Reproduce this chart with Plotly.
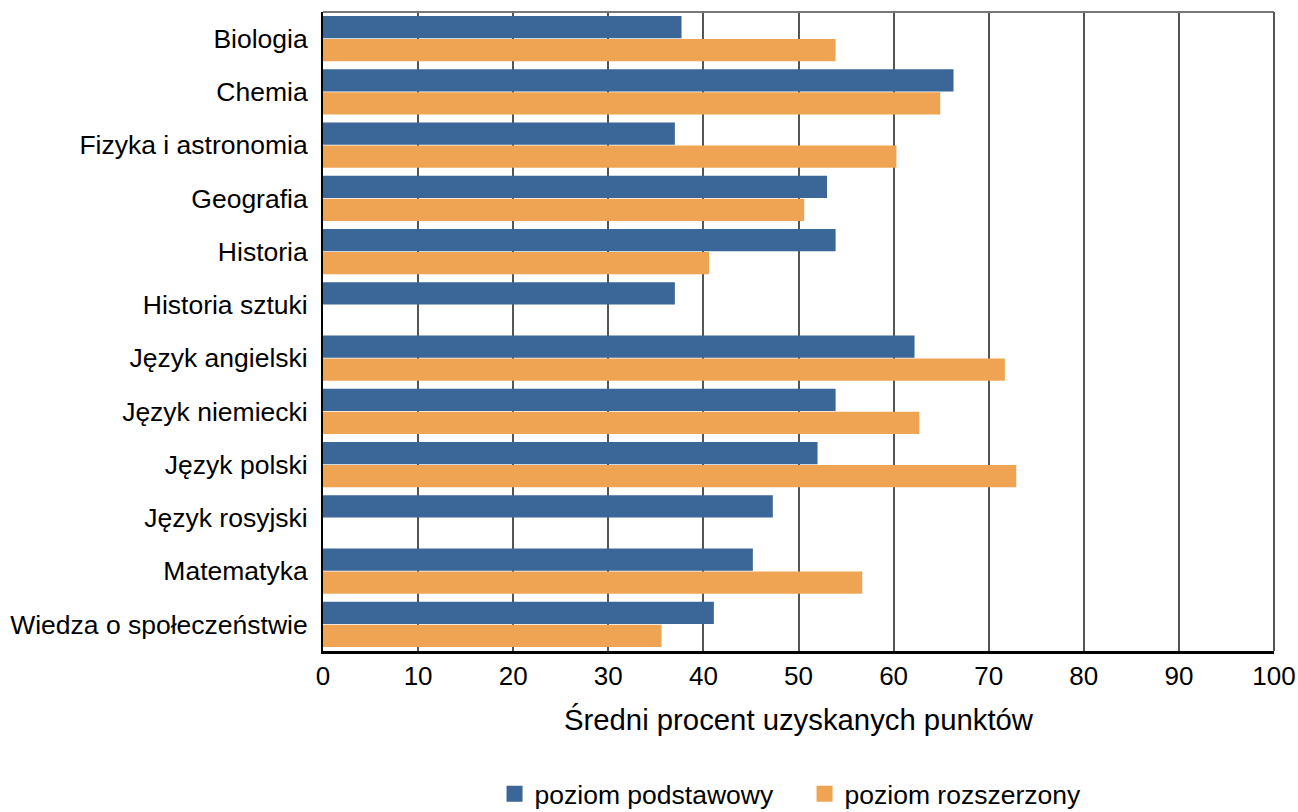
import plotly.graph_objects as go

subjects = ["Biologia", "Chemia", "Fizyka i astronomia", "Geografia", "Historia",
            "Historia sztuki", "Język angielski", "Język niemiecki", "Język polski",
            "Język rosyjski", "Matematyka", "Wiedza o społeczeństwie"]
basic = [37.7, 66.3, 37.0, 53.0, 53.9, 37.0, 62.2, 53.9, 52.0, 47.3, 45.2, 41.1]
extended = [53.9, 64.9, 60.3, 50.6, 40.6, None, 71.7, 62.7, 72.9, None, 56.7, 35.6]
x_ticks = [0, 10, 20, 30, 40, 50, 60, 70, 80, 90, 100]
series_names = ["poziom podstawowy", "poziom rozszerzony"]
series_colors = ["#3B6698", "#EFA453"]

FONT = "Liberation Sans, Arial, sans-serif"

fig = go.Figure()
for name, vals, col in zip(series_names, [basic, extended], series_colors):
    fig.add_trace(go.Bar(y=subjects, x=vals, orientation="h", name=name, showlegend=False,
                         marker=dict(color=col, line=dict(width=0))))
# legend swatches (larger squares than the default bar swatch)
for name, col in zip(series_names, series_colors):
    fig.add_trace(go.Scatter(x=[None], y=[None], mode="markers", name=name,
                             marker=dict(symbol="square", size=16, color=col,
                                         line=dict(width=0))))

fig.update_layout(
    width=1298, height=812,
    margin=dict(l=323, r=24, t=12, b=161),
    paper_bgcolor="white", plot_bgcolor="white",
    barmode="group", bargap=0.13, bargroupgap=0.04,
    font=dict(family=FONT, size=26, color="black"),
    showlegend=True,
    legend=dict(orientation="h", xref="container", yref="container",
                x=0.381, xanchor="left", y=0.022, yanchor="middle",
                font=dict(size=26.5), itemwidth=30, itemsizing="trace",
                entrywidth=265, traceorder="normal"),
    xaxis=dict(range=[0, 100], tickvals=x_ticks, ticktext=[str(v) for v in x_ticks],
               automargin=False,
               showgrid=True, gridcolor="#555555", gridwidth=2,
               showline=True, linecolor="black", linewidth=3,
               ticks="", zeroline=False, tickfont=dict(size=26),
               title=dict(text="Średni procent uzyskanych punktów", font=dict(size=29.3), standoff=20)),
    yaxis=dict(autorange="reversed", showline=True, linecolor="black", linewidth=2,
               automargin=False,
               showgrid=False, ticks="", tickfont=dict(size=26.5), ticklabelstandoff=8),
    shapes=[dict(type="line", xref="paper", yref="paper", x0=0, x1=1, y0=1, y1=1,
                 line=dict(color="#777777", width=2)),
            dict(type="line", xref="paper", yref="paper", x0=1, x1=1, y0=0, y1=1,
                 line=dict(color="#555555", width=2))],
)

fig.write_html(
    "out.html",
    config={"displayModeBar": False},
    post_script="document.documentElement.style.margin='0';document.body.style.margin='0';"
                "document.documentElement.style.overflow='hidden';document.body.style.overflow='hidden';",
)
